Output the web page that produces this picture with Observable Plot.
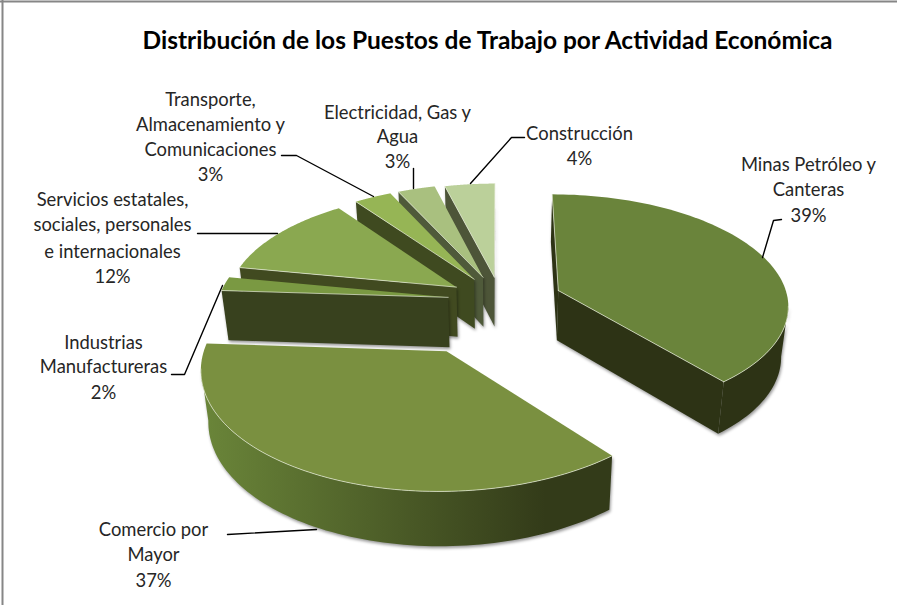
<!DOCTYPE html>
<html><head><meta charset="utf-8">
<style>html,body{margin:0;background:#fff}svg{display:block;font-family:Lato,sans-serif}
.wall{filter:drop-shadow(1px 2px 1.5px rgba(0,0,0,.4))}</style>
<script src="https://cdn.jsdelivr.net/npm/d3@7"></script>
<script src="https://cdn.jsdelivr.net/npm/@observablehq/plot@0.6"></script>
</head><body><script>
const titleText = "Distribución de los Puestos de Trabajo por Actividad Económica";
const categories = ["Minas Petróleo y Canteras","Comercio por Mayor","Industrias Manufactureras","Servicios estatales, sociales, personales e internacionales","Transporte, Almacenamiento y Comunicaciones","Electricidad, Gas y Agua","Construcción"];
const shares = [39,37,2,12,3,3,4];
const pull = [0.27,0.49,0.23,0.23,0.23,0.23,0.22];
const topColors = ["#6a843b","#7a9040","#7a9942","#8aa850","#96b555","#a9c07f","#bbd09a"];
const wallColors = ["#2d3315","url(#comercioWall)","#38411e","#414a20","#3f4a20","#4f5a3a","#4d5538"];
const labelLines = [
 ["Minas Petróleo y","Canteras","39%"],
 ["Comercio por","Mayor","37%"],
 ["Industrias","Manufactureras","2%"],
 ["Servicios estatales,","sociales, personales","e internacionales","12%"],
 ["Transporte,","Almacenamiento y","Comunicaciones","3%"],
 ["Electricidad, Gas y","Agua","3%"],
 ["Construcción","4%"]
];
const labelX = [808,153,103,112,210,397,579];
const labelY = [[165,190,216],[530,555,581],[343,367,393],[200,225,252,277],[100,125,150,175],[113,137,162],[134,159]];
const leaders = [
 [[781,219],[773,220],[762,257]],
 [[227,534],[316,529]],
 [[171,374],[184,374],[222,285]],
 [[197,233],[277,233]],
 [[281,155],[296,155],[373,196]],
 [[413,168],[413,188]],
 [[524,137],[511,137],[470,183]]
];

const Cx=500,Cy=300,f=230,g=110,k=0.12,N=90;
const project=(u,v)=>{const d=1-k*v;return [Cx+f*u/d,Cy+g*v/d];};
const lower=([x,y])=>[Cx+(x-Cx)*0.975,y+50+(y-Cy)*0.025];
const rows=(pts,id,fill)=>pts.map(([x,y])=>({x,y,id,fill}));

const marks=[];
marks.push(()=>{
  const defs=d3.create("svg:defs");
  const lg=defs.append("linearGradient").attr("id","comercioWall").attr("gradientUnits","userSpaceOnUse")
    .attr("x1",204).attr("x2",545).attr("y1",0).attr("y2",0);
  lg.append("stop").attr("offset",0).attr("stop-color","#6a8539");
  lg.append("stop").attr("offset",1).attr("stop-color","#333b19");
  return defs.node();
});
marks.push(Plot.ruleY([1],{stroke:"#868686",strokeWidth:2}));
marks.push(Plot.ruleX([2],{stroke:"#868686",strokeWidth:2}));

const cum=d3.cumsum(shares);
const total=d3.sum(shares);
const faces=categories.map((c,i)=>{
  const a0=(i?cum[i-1]:0)/total*2*Math.PI,a1=cum[i]/total*2*Math.PI,m=(a0+a1)/2;
  const ou=pull[i]*Math.sin(m),ov=-pull[i]*Math.cos(m);
  const arc=d3.range(N+1).map(j=>{const a=a0+(a1-a0)*j/N;return project(ou+Math.sin(a),ov-Math.cos(a));});
  return {i,apex:project(ou,ov),arc};
});
const order=[6,5,4,3,2,0,1];
for(const i of order){
  const {apex,arc}=faces[i];
  const outline=[apex,...arc];
  const fill=wallColors[i];
  const wall=[],edge=[];
  const addRun=(pts,id)=>{
    if(pts.length<2) return;
    wall.push(...rows([...pts,...pts.map(lower).reverse()],id,fill));
    edge.push(...rows(pts,id,fill));
  };
  if(arc[0][0]<apex[0]-1e-6) addRun([apex,arc[0]],"s");
  if(apex[0]<arc[N][0]-1e-6) addRun([arc[N],apex],"e");
  const run=arc.filter((p,j)=>(j<N&&arc[j+1][0]<p[0])||(j>0&&p[0]<arc[j-1][0]));
  addRun(run,"a");
  marks.push(Plot.line(wall,{x:"x",y:"y",z:"id",fill:"fill",stroke:"none",className:"wall"}));
  marks.push(Plot.line(rows(outline,"t",topColors[i]),{x:"x",y:"y",z:"id",fill:"fill",stroke:"none"}));
  marks.push(Plot.line(edge,{x:"x",y:"y",z:"id",stroke:"#e6ecd8",strokeWidth:0.7}));
}
leaders.forEach(l=>marks.push(Plot.line(l,{x:d=>d[0],y:d=>d[1],stroke:"#000",strokeWidth:1.4})));
const labelRows=labelLines.flatMap((ls,i)=>ls.map((t,j)=>({t,x:labelX[i],y:labelY[i][j]})));
marks.push(Plot.text(labelRows,{x:"x",y:"y",text:"t",fontSize:18.4,fill:"#262626",fontFamily:"Lato"}));
marks.push(Plot.text([titleText],{x:()=>487,y:()=>41,text:d=>d,fontSize:24.5,fontWeight:700,fill:"#000",fontFamily:"Lato"}));

const chart=Plot.plot({width:897,height:605,margin:0,
  x:{domain:[0,897],range:[0,897],axis:null},
  y:{domain:[0,605],range:[0,605],axis:null},
  color:{type:"identity"},marks});
document.body.append(chart);
</script></body></html>
